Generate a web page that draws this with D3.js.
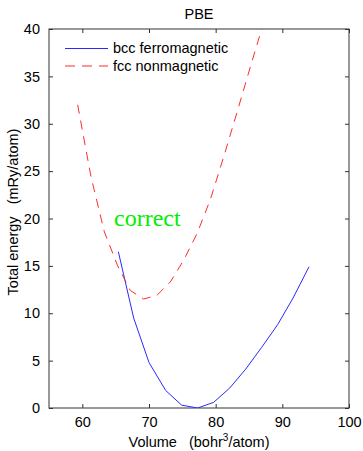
<!DOCTYPE html>
<html><head><meta charset="utf-8">
<script src="https://cdn.jsdelivr.net/npm/d3@7"></script>
<style>body{margin:0;background:#fff}svg{display:block;font-family:"Liberation Sans",Arial,sans-serif}text{white-space:pre}</style>
</head><body>
<script>
const bccVolume = [65.4, 67.7, 70.0, 72.5, 74.9, 77.3, 79.7, 82.1, 84.5, 86.9, 89.3, 91.6, 94.0];
const bccEnergy = [16.5, 9.5, 4.8, 1.85, 0.3, 0.0, 0.6, 2.1, 4.1, 6.4, 8.8, 11.6, 14.9];
const fccVolume = [59.3, 61.3, 63.3, 65.3, 67.2, 69.2, 71.2, 73.2, 75.2, 77.2, 79.2, 81.2, 83.2, 85.2, 87.2];
const fccEnergy = [32.0, 24.4, 18.6, 15.0, 12.4, 11.5, 11.9, 13.3, 15.6, 18.4, 22.0, 26.5, 31.2, 36.0, 40.7];
const xTicks = [60, 70, 80, 90, 100];
const yTicks = [0, 5, 10, 15, 20, 25, 30, 35, 40];
const seriesNames = ["bcc ferromagnetic", "fcc nonmagnetic"];

const W = 363, H = 451;
const L = 49, R = 349, T = 29, B = 408;
const svg = d3.select("body").append("svg").attr("width", W).attr("height", H);
const x = d3.scaleLinear().domain([55, 100]).range([L, R]);
const y = d3.scaleLinear().domain([0, 40]).range([B, T]);

svg.append("clipPath").attr("id", "clip").append("rect")
  .attr("x", L).attr("y", T).attr("width", R - L).attr("height", B - T);

const axisColor = "#333";
const fs = 14.5;
const gx = svg.append("g").attr("transform", `translate(0,${B})`)
  .call(d3.axisBottom(x).tickValues(xTicks).tickSizeInner(-4).tickSizeOuter(0).tickPadding(9));
const gxt = svg.append("g").attr("transform", `translate(0,${T})`)
  .call(d3.axisTop(x).tickValues(xTicks).tickSizeInner(-4).tickSizeOuter(0).tickFormat(""));
const gy = svg.append("g").attr("transform", `translate(${L},0)`)
  .call(d3.axisLeft(y).tickValues(yTicks).tickSizeInner(-4).tickSizeOuter(0).tickPadding(9));
const gyr = svg.append("g").attr("transform", `translate(${R},0)`)
  .call(d3.axisRight(y).tickValues(yTicks).tickSizeInner(-4).tickSizeOuter(0).tickFormat(""));
[gx, gxt, gy, gyr].forEach(g => {
  g.select(".domain").remove();
  g.selectAll("line").attr("stroke", axisColor);
  g.selectAll("text").attr("fill", "#000").style("font-size", fs + "px").style("font-family", '"Liberation Sans",Arial,sans-serif');
});
svg.append("rect").attr("x", L).attr("y", T).attr("width", R - L).attr("height", B - T)
  .attr("fill", "none").attr("stroke", axisColor).attr("stroke-width", 1);

const line = d3.line().x(d => x(d[0])).y(d => y(d[1]));
const plot = svg.append("g").attr("clip-path", "url(#clip)");
plot.append("path").datum(bccVolume.map((v, i) => [v, bccEnergy[i]]))
  .attr("d", line).attr("fill", "none").attr("stroke", "#2a2aff").attr("stroke-width", 1);
plot.append("path").datum(fccVolume.map((v, i) => [v, fccEnergy[i]]))
  .attr("d", line).attr("fill", "none").attr("stroke", "#ff2a2a").attr("stroke-width", 1)
  .attr("stroke-dasharray", "9,7");

const leg = svg.append("g");
leg.append("line").attr("x1", 65).attr("x2", 108).attr("y1", 48.5).attr("y2", 48.5)
  .attr("stroke", "#2a2aff").attr("stroke-width", 1);
leg.append("line").attr("x1", 65).attr("x2", 108).attr("y1", 66).attr("y2", 66)
  .attr("stroke", "#ff2a2a").attr("stroke-width", 1).attr("stroke-dasharray", "10,7");
leg.append("text").attr("x", 113).attr("y", 53).style("font-size", fs + "px").text(seriesNames[0]);
leg.append("text").attr("x", 113).attr("y", 71).style("font-size", fs + "px").text(seriesNames[1]);

svg.append("text").attr("x", (L + R) / 2).attr("y", 19).attr("text-anchor", "middle")
  .style("font-size", fs + "px").text("PBE");
const xl = svg.append("text").attr("x", (L + R) / 2).attr("y", 447).attr("text-anchor", "middle")
  .style("font-size", fs + "px");
xl.append("tspan").text("Volume   (bohr");
xl.append("tspan").attr("dy", -6).style("font-size", "10px").text("3");
xl.append("tspan").attr("dy", 6).text("/atom)");
svg.append("text").attr("transform", `translate(18,212) rotate(-90)`)
  .attr("text-anchor", "middle").style("font-size", fs + "px")
  .text("Total energy   (mRy/atom)");

svg.append("text").attr("x", 114).attr("y", 226).style("font-family", '"Liberation Serif","Times New Roman",serif')
  .style("font-size", "24px").attr("fill", "#00ee00").text("correct");
</script>
</body></html>
